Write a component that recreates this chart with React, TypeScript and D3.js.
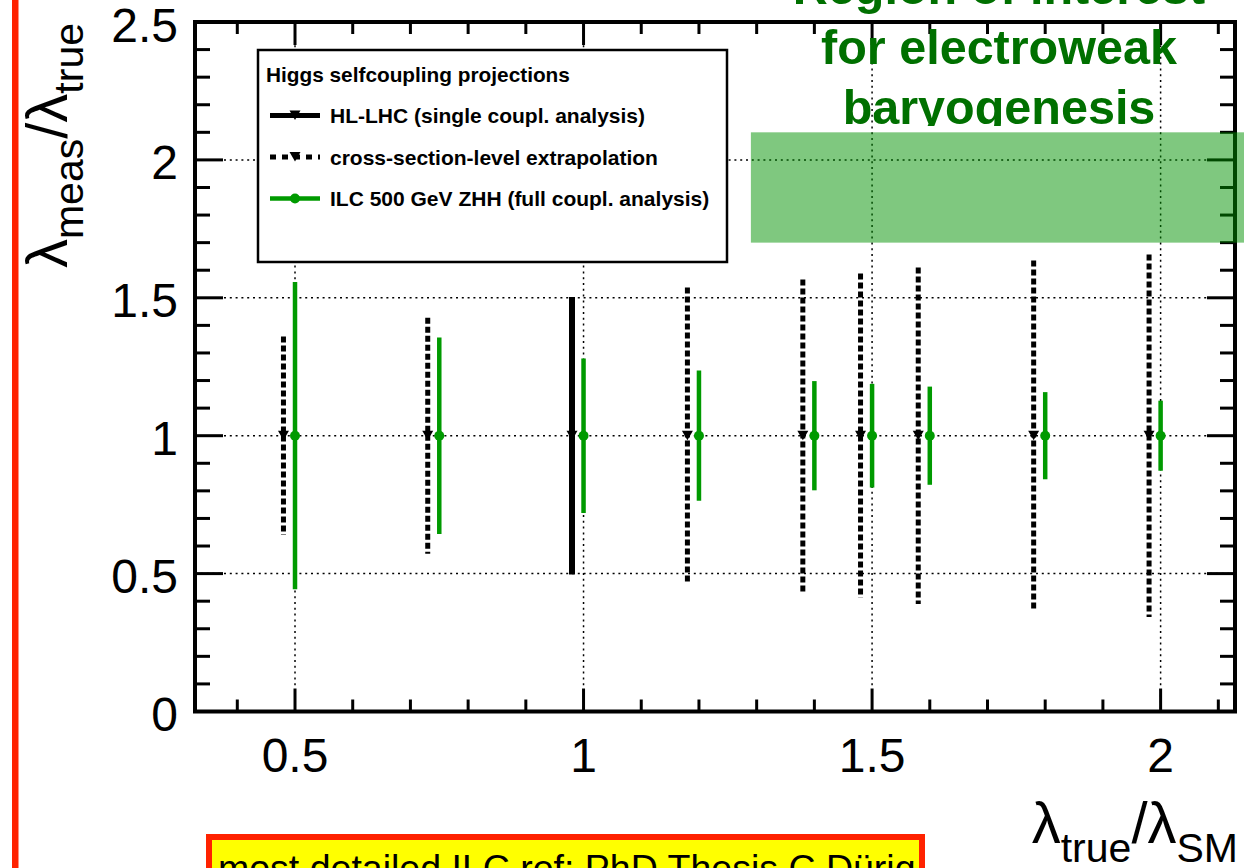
import React from "react";
import * as d3 from "d3";

// ---------- data ----------
const ilcX = [0.5, 0.75, 1.0, 1.2, 1.4, 1.5, 1.6, 1.8, 2.0];
const ilcErr = [0.557, 0.356, 0.28, 0.236, 0.198, 0.188, 0.178, 0.158, 0.127];
const xsecX = [0.48, 0.73, 1.18, 1.38, 1.48, 1.58, 1.78, 1.98];
const xsecErr = [0.36, 0.428, 0.537, 0.566, 0.588, 0.61, 0.635, 0.657];
const hlX = [0.98];
const hlErr = [0.503];
const xMajor = [0.5, 1, 1.5, 2];
const xLabels = ["0.5", "1", "1.5", "2"];
const yMajor = [0, 0.5, 1, 1.5, 2, 2.5];
const yLabels = ["0", "0.5", "1", "1.5", "2", "2.5"];
const roiX = [1.29, 2.15];
const roiY = [1.7, 2.1];
const roiText = ["Region of interest", "for electroweak", "baryogenesis"];
const legendTitle = "Higgs selfcoupling projections";
const legendEntries = [
  "HL-LHC (single coupl. analysis)",
  "cross-section-level extrapolation",
  "ILC 500 GeV ZHH (full coupl. analysis)",
];
const noteText = "most detailed ILC ref: PhD Thesis C.Dürig";

const W = 1244;
const H = 868;
const L = 195, R = 1235, T = 22, B = 711.5;
const GREEN = "#009a00";
const SANS = "'Liberation Sans', Arial, Helvetica, sans-serif";

export default function App() {
  const x = d3.scaleLinear().domain([0.3267, 2.1289]).range([L, R]);
  const y = d3.scaleLinear().domain([0, 2.5]).range([B, T]);

  const xMinor = d3.range(4, 22).map((v) => v / 10);
  const yMinor = d3.range(0, 26).map((v) => v / 10);
  const isMajor = (v: number) => Math.abs(v * 2 - Math.round(v * 2)) < 1e-6;

  const tri = "M-5.5,-5 L5.5,-5 L0,4.5 Z";

  return (
    <svg
      width={W}
      height={H}
      style={{ position: "absolute", left: 0, top: 0, background: "#fff" }}
      fontFamily={SANS}
    >
      <defs>
        <clipPath id="roiClip">
          <rect x={0} y={0} width={W} height={126} />
        </clipPath>
      </defs>
      <rect x={0} y={0} width={W} height={H} fill="#fff" />
      {/* red bar on left */}
      <rect x={12} y={0} width={6.5} height={H} fill="#ff2200" />

      {/* grid */}
      <g stroke="#000" strokeWidth={1.5} strokeDasharray="2,3.8">
        {xMajor.map((v) => (
          <line key={"gx" + v} x1={x(v)} x2={x(v)} y1={T} y2={B} />
        ))}
        {yMajor
          .filter((v) => v > 0 && v < 2.5)
          .map((v) => (
            <line key={"gy" + v} x1={L} x2={R} y1={y(v)} y2={y(v)} />
          ))}
      </g>

      {/* HL-LHC solid */}
      {hlX.map((v, i) => (
        <g key={"hl" + i}>
          <line x1={x(v)} x2={x(v)} y1={y(1 - hlErr[i])} y2={y(1 + hlErr[i])} stroke="#000" strokeWidth={6} />
          <path d={tri} transform={`translate(${x(v)},${y(1)})`} fill="#000" />
        </g>
      ))}
      {/* cross-section dotted */}
      {xsecX.map((v, i) => (
        <g key={"xs" + i}>
          <line
            x1={x(v)}
            x2={x(v)}
            y1={y(1 + xsecErr[i])}
            y2={y(1 - xsecErr[i])}
            stroke="#000"
            strokeWidth={5}
            strokeDasharray="6,3"
          />
          <path d={tri} transform={`translate(${x(v)},${y(1)})`} fill="#000" />
        </g>
      ))}
      {/* ILC green */}
      {ilcX.map((v, i) => (
        <g key={"ilc" + i}>
          <line x1={x(v)} x2={x(v)} y1={y(1 - ilcErr[i])} y2={y(1 + ilcErr[i])} stroke={GREEN} strokeWidth={4.5} />
          <circle cx={x(v)} cy={y(1)} r={5} fill={GREEN} />
        </g>
      ))}

      {/* frame and ticks */}
      <g stroke="#000" strokeWidth={3}>
        {xMinor.map((v) => {
          const len = isMajor(v) ? 23 : 12;
          return (
            <g key={"xt" + v}>
              <line x1={x(v)} x2={x(v)} y1={B} y2={B - len} />
              <line x1={x(v)} x2={x(v)} y1={T} y2={T + len} />
            </g>
          );
        })}
        {yMinor.map((v) => {
          const len = isMajor(v) ? 28 : 15;
          return (
            <g key={"yt" + v}>
              <line x1={L} x2={L + len} y1={y(v)} y2={y(v)} />
              <line x1={R} x2={R - len} y1={y(v)} y2={y(v)} />
            </g>
          );
        })}
      </g>
      <rect x={L} y={T} width={R - L} height={B - T} fill="none" stroke="#000" strokeWidth={4} />

      {/* legend */}
      <rect x={258} y={50} width={469} height={212} fill="#fff" stroke="#000" strokeWidth={2.5} />
      <text x={266} y={82} fontSize={20.8} fontWeight="bold">
        {legendTitle}
      </text>
      <g>
        <line x1={270} x2={320} y1={115.5} y2={115.5} stroke="#000" strokeWidth={5} />
        <path d={tri} transform="translate(295,115.5)" fill="#000" />
        <line x1={270} x2={320} y1={157} y2={157} stroke="#000" strokeWidth={5} strokeDasharray="6,6" />
        <path d={tri} transform="translate(295,157)" fill="#000" />
        <line x1={270} x2={320} y1={198.5} y2={198.5} stroke={GREEN} strokeWidth={4.5} />
        <circle cx={295} cy={198.5} r={5} fill={GREEN} />
      </g>
      {legendEntries.map((t, i) => (
        <text key={t} x={330} y={123 + i * 41.7} fontSize={21} fontWeight="bold">
          {t}
        </text>
      ))}

      {/* region of interest box */}
      <rect
        x={x(roiX[0])}
        y={y(roiY[1])}
        width={x(roiX[1]) - x(roiX[0])}
        height={y(roiY[0]) - y(roiY[1])}
        fill="rgb(0,145,0)"
        fillOpacity={0.5}
      />
      <g clipPath="url(#roiClip)">
        {roiText.map((t, i) => (
          <text
            key={t}
            x={999}
            y={4 + i * 60}
            textAnchor="middle"
            fontSize={48.5}
            fontWeight="bold"
            fill="#007000"
          >
            {t}
          </text>
        ))}
      </g>

      {/* tick labels */}
      {xMajor.map((v, i) => (
        <text key={"xl" + v} x={x(v)} y={772} fontSize={48} textAnchor="middle">
          {xLabels[i]}
        </text>
      ))}
      {yMajor.map((v, i) => (
        <text key={"yl" + v} x={178} y={y(v) + 19.5} fontSize={48} textAnchor="end">
          {yLabels[i]}
        </text>
      ))}

      {/* axis titles */}
      <text transform="translate(67,23) rotate(-90)" textAnchor="end" fontSize={58}>
        <tspan>λ</tspan>
        <tspan fontSize={41} dy={16}>meas</tspan>
        <tspan dy={-16}>/λ</tspan>
        <tspan fontSize={41} dy={16}>true</tspan>
      </text>
      <text x={1238} y={843} textAnchor="end" fontSize={58}>
        <tspan>λ</tspan>
        <tspan fontSize={41} dy={19}>true</tspan>
        <tspan dy={-19}>/λ</tspan>
        <tspan fontSize={41} dy={19}>SM</tspan>
      </text>

      {/* note box */}
      <rect x={209} y={837} width={713} height={60} fill="#ffff00" stroke="#ff2200" strokeWidth={6} />
      <text x={218} y={881} fontSize={37.5}>
        {noteText}
      </text>
    </svg>
  );
}
